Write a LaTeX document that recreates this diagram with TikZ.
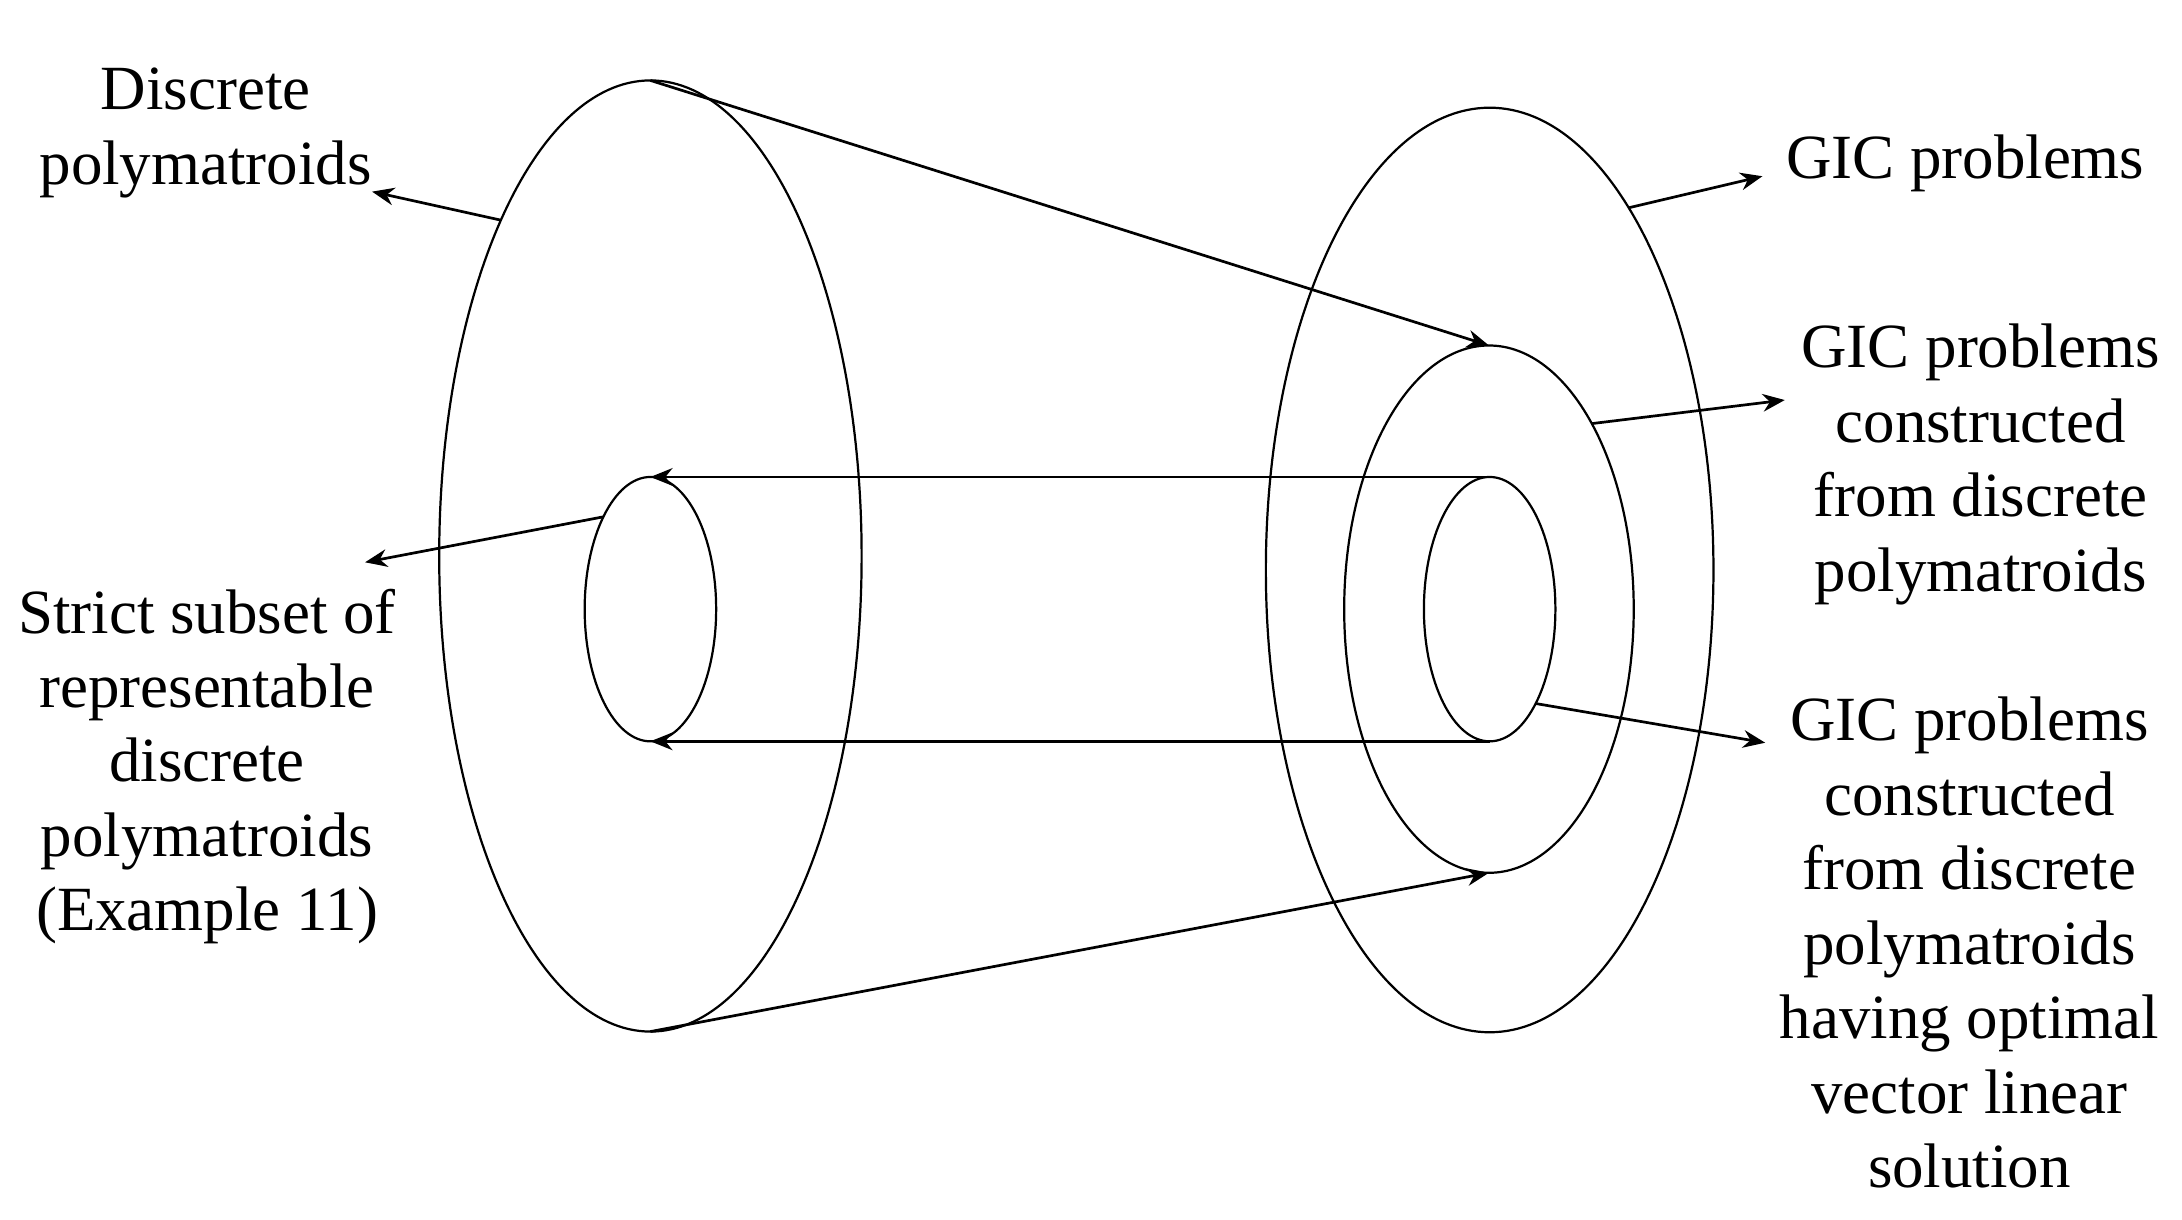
\documentclass[tikz,border=0pt]{standalone}
\usepackage{fontspec}
\setmainfont{Liberation Serif}
\usepackage{tikz}
\usetikzlibrary{positioning}
\usetikzlibrary{shapes.geometric}
\usetikzlibrary{calc,arrows.meta}

\newcommand{\labelfont}{\fontsize{12.8}{15.15}\selectfont}

\tikzset{
    ring/.style={ellipse, draw, line width=0.45pt, inner sep=0pt, outer sep=0pt},
    pointer/.style={-{Stealth[length=4.5pt,width=3.6pt]}, line width=0.55pt},
    lbl/.style={align=center, font=\labelfont, inner sep=0pt}
}

\begin{document}
\begin{tikzpicture}
    % Fix the frame
    \useasboundingbox (0,0) rectangle (15.6,-8.72);

    % Draw the rings
    \node[ring, minimum width=3.02cm, minimum height=6.80cm] (big) at (4.65,-3.975) {};
    \node[ring, minimum width=0.94cm, minimum height=1.89cm] (small) at (4.65,-4.355) {};
    \node[ring, minimum width=3.20cm, minimum height=6.61cm] (gic) at (10.65,-4.075) {};
    \node[ring, minimum width=2.07cm, minimum height=3.77cm] (gicd) at (10.645,-4.355) {};
    \node[ring, minimum width=0.94cm, minimum height=1.89cm] (gicv) at (10.65,-4.355) {};

    % Draw the maps between them
    \draw[pointer] (big.north) -- (gicd.north);
    \draw[pointer] (big.south) -- (gicd.south);
    \draw[pointer] (gicv.north) -- (small.north);
    \draw[pointer] (gicv.south) -- (small.south);

    % Draw labels
    \node[lbl] (Ldisc) at (1.47,-0.95) {Discrete\\polymatroids};
    \node[lbl] (Lstrict) at (1.48,-5.48) {Strict subset of\\representable\\discrete\\polymatroids\\(Example 11)};
    \node[lbl] (Lgic) at (14.05,-1.17) {GIC problems};
    \node[lbl] (Lgicd) at (14.16,-3.32) {GIC problems\\constructed\\from discrete\\polymatroids};
    \node[lbl] (Lgicv) at (14.08,-6.74) {GIC problems\\constructed\\from discrete\\polymatroids\\having optimal\\vector linear\\solution};

    \coordinate (tdisc) at (2.66,-1.37);
    \coordinate (tstrict) at (2.61,-4.02);
    \coordinate (tgic) at (12.60,-1.26);
    \coordinate (tgicd) at (12.76,-2.86);
    \coordinate (tgicv) at (12.62,-5.31);

    \draw[pointer] (big.114.5) -- (tdisc);
    \draw[pointer] (small.117.6) -- (tstrict);
    \draw[pointer] (gic.69) -- (tgic);
    \draw[pointer] (gicd.61.3) -- (tgicd);
    \draw[pointer] (gicv.-64) -- (tgicv);
\end{tikzpicture}
\end{document}
